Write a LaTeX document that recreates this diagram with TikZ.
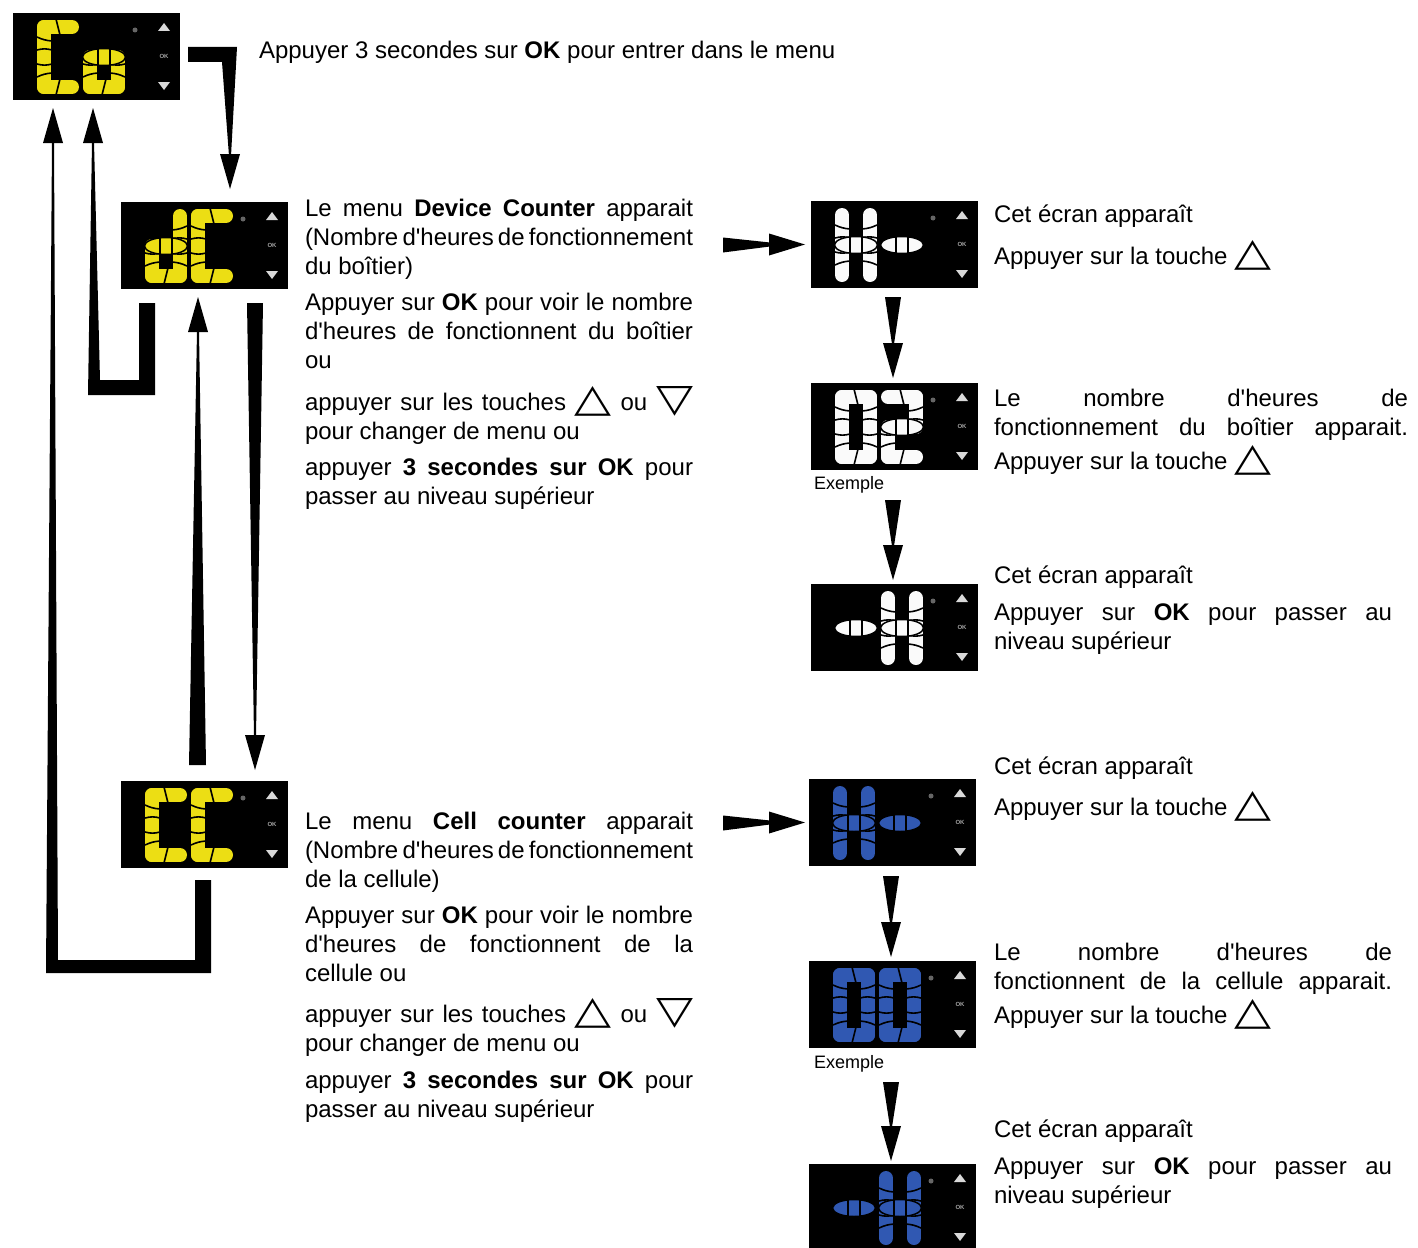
\documentclass[tikz,border=0pt]{standalone}
\usepackage{fontspec}
\usepackage{graphicx}
\setmainfont{Liberation Sans}
\newfontfamily\lib{Liberation Sans}[WordSpace={1,1.5,1.6}]
\newfontfamily\dejavu{DejaVu Sans}
\usetikzlibrary{calc}
\definecolor{lcdyellow}{RGB}{236,222,20}
\definecolor{lcdblue}{RGB}{48,88,178}
\definecolor{lcdwhite}{RGB}{250,250,250}
\colorlet{lcdcol}{white}
\newcommand\tup{\raisebox{-1pt}{\resizebox{37pt}{25pt}{\dejavu △}}}
\newcommand\tdown{\raisebox{-1pt}{\resizebox{37pt}{25pt}{\dejavu ▽}}}
\tikzset{
  txt/.style={inner sep=0pt, outer sep=0pt, anchor=base west, font=\lib\fontsize{24}{29}\selectfont, align=left},
  para/.style={txt, align=justify, text width=#1, execute at begin node={\tolerance=10000\hbadness=10000\emergencystretch=0pt}},
  small/.style={inner sep=0pt, outer sep=0pt, anchor=base west, font=\lib\fontsize{18}{20}\selectfont},
  conn/.style={fill=black, draw=none},
  seg/.style={draw=lcdcol, line width=14pt, line cap=round, line join=round},
  cut/.style={draw=black, line width=1.6pt},
  lcdbox/.style={fill=black, minimum width=167pt, minimum height=87pt, inner sep=0pt, outer sep=0pt, anchor=north west},
  okstyle/.style={inner sep=0pt, font=\lib\bfseries\fontsize{6}{6}\selectfont, text=gray!70!white},
}
\expandafter\def\csname lcdsega\endcsname{\draw[seg] (7,7)--(35,7);}
\expandafter\def\csname lcdsegb\endcsname{\draw[seg] (35,7)--(35,37);}
\expandafter\def\csname lcdsegc\endcsname{\draw[seg] (35,37)--(35,67);}
\expandafter\def\csname lcdsegd\endcsname{\draw[seg] (7,67)--(35,67);}
\expandafter\def\csname lcdsege\endcsname{\draw[seg] (7,37)--(7,67);}
\expandafter\def\csname lcdsegf\endcsname{\draw[seg] (7,7)--(7,37);}
\newcommand\lcdg{\filldraw[fill=lcdcol, draw=black, line width=1.5pt] (21,37) ellipse [x radius=21.5pt, y radius=8.5pt];
  \draw[cut] (15,29)--(15,45) (27,29)--(27,45);}
\newcommand\lcdcuts{\draw[cut] (19,-1)--(23,15) (23,59)--(19,75)
  (0,17) to[bend right=10] (15,21) (0,30) to[bend left=15] (15,30) (0,44) to[bend right=15] (15,44) (0,57) to[bend left=10] (15,53)
  (27,21) to[bend right=10] (42,17) (27,30) to[bend left=15] (42,30) (27,44) to[bend right=15] (42,44) (27,53) to[bend left=10] (42,57);}
\newcommand\lcdglyph[3]{%
  \begin{scope}[shift={(#1,7)}]
    \foreach \s in {#2}{\csname lcdseg\s\endcsname}
    \lcdcuts
    #3
  \end{scope}}
\newcommand\lcdicons{\fill[white!85!black] (145,18)--(157,18)--(151,10)--cycle (145,69)--(157,69)--(151,77)--cycle;
  \fill[gray!80!black] (122,17) circle[radius=2.5pt];}
\newcommand\lcd[6]{%
  \node[lcdbox] (#1) at (#2,#3) {};
  \begin{scope}[shift={(#1.north west)}]
    \colorlet{lcdcol}{#4}
    #5#6
    \lcdicons
    \node[okstyle] (#1-ok) at (151,43) {OK};
  \end{scope}}
\newcommand\headdown[1]{\fill[conn] (#1) -- ++(-10,-35) -- ++(20,0) -- cycle;}
\newcommand\headup[1]{\fill[conn] (#1) -- ++(-10,35) -- ++(20,0) -- cycle;}
\newcommand\headright[1]{\fill[conn] (#1) -- ++(-36,-11) -- ++(0,22) -- cycle;}
\begin{document}
\begin{tikzpicture}[x=1pt, y=-1pt]
\useasboundingbox (0,0) rectangle (1418,1247);
\clip (0,0) rectangle (1418,1247);
\fill[white] (0,0) rectangle (1418,1247);

% displays
\lcd{co}{13}{13}{lcdyellow}{\lcdglyph{24}{a,d,e,f}{}}{\lcdglyph{70}{c,d,e}{\lcdg}}
\lcd{dc}{121}{202}{lcdyellow}{\lcdglyph{24}{b,c,d,e}{\lcdg}}{\lcdglyph{70}{a,d,e,f}{}}
\lcd{cc}{121}{781}{lcdyellow}{\lcdglyph{24}{a,d,e,f}{}}{\lcdglyph{70}{a,d,e,f}{}}
\lcd{h1}{811}{201}{lcdwhite}{\lcdglyph{24}{b,c,e,f}{\lcdg}}{\lcdglyph{70}{}{\lcdg}}
\lcd{h2}{811}{383}{lcdwhite}{\lcdglyph{24}{a,b,c,d,e,f}{}}{\lcdglyph{70}{a,b,e,d}{\lcdg}}
\lcd{h3}{811}{584}{lcdwhite}{\lcdglyph{24}{}{\lcdg}}{\lcdglyph{70}{b,c,e,f}{\lcdg}}
\lcd{b1}{809}{779}{lcdblue}{\lcdglyph{24}{b,c,e,f}{\lcdg}}{\lcdglyph{70}{}{\lcdg}}
\lcd{b2}{809}{961}{lcdblue}{\lcdglyph{24}{a,b,c,d,e,f}{}}{\lcdglyph{70}{a,b,c,d,e,f}{}}
\lcd{b3}{809}{1164}{lcdblue}{\lcdglyph{24}{}{\lcdg}}{\lcdglyph{70}{b,c,e,f}{\lcdg}}

% texts
\node[txt] (t0) at (259,59) {Appuyer 3 secondes sur \textbf{OK} pour entrer dans le menu};

\node[para=388pt] (d1) at (305,216) {Le menu \textbf{Device Counter} apparait\linebreak (Nombre d'heures de fonctionnement\linebreak du boîtier)};
\node[para=388pt] (d2) at (305,310) {Appuyer sur \textbf{OK} pour voir le nombre\linebreak d'heures de fonctionnent du boîtier\linebreak ou};
\node[para=388pt] (d3) at (305,410) {appuyer sur les touches \tup{} ou \tdown\linebreak pour changer de menu ou};
\node[para=388pt] (d4) at (305,475) {appuyer \textbf{3 secondes sur OK} pour\linebreak passer au niveau supérieur};

\node[para=388pt] (c1) at (305,829) {Le menu \textbf{Cell counter} apparait\linebreak (Nombre d'heures de fonctionnement\linebreak de la cellule)};
\node[para=388pt] (c2) at (305,923) {Appuyer sur \textbf{OK} pour voir le nombre\linebreak d'heures de fonctionnent de la\linebreak cellule ou};
\node[para=388pt] (c3) at (305,1022) {appuyer sur les touches \tup{} ou \tdown\linebreak pour changer de menu ou};
\node[para=388pt] (c4) at (305,1088) {appuyer \textbf{3 secondes sur OK} pour\linebreak passer au niveau supérieur};

\node[txt] (r1) at (994,222) {Cet écran apparaît};
\node[txt] (r2) at (994,264) {Appuyer sur la touche \tup};
\node[para=414pt] (r3) at (994,406) {Le nombre d'heures de\linebreak fonctionnement\hfill du\hfill boîtier\hfill apparait.};
\node[txt] (r4) at (994,469) {Appuyer sur la touche \tup};
\node[txt] (r5) at (994,583) {Cet écran apparaît};
\node[para=398pt] (r6) at (994,620) {Appuyer sur \textbf{OK} pour passer au\linebreak niveau supérieur};
\node[small] (ex1) at (814,489) {Exemple};

\node[txt] (s1) at (994,774) {Cet écran apparaît};
\node[txt] (s2) at (994,815) {Appuyer sur la touche \tup};
\node[para=398pt] (s3) at (994,960) {Le nombre d'heures de\linebreak fonctionnent\hfill de\hfill la\hfill cellule\hfill apparait.};
\node[txt] (s4) at (994,1023) {Appuyer sur la touche \tup};
\node[txt] (s5) at (994,1137) {Cet écran apparaît};
\node[para=398pt] (s6) at (994,1174) {Appuyer sur \textbf{OK} pour passer au\linebreak niveau supérieur};
\node[small] (ex2) at (814,1068) {Exemple};

% connectors
% Co -> dC
\coordinate (tA) at ($(dc.north west)+(109,-13)$);
\fill[conn] ($(co.east)+(8,-9.5)$) -- ($(co.east)+(57,-9.5)$) -- ($(tA)+(1,-33)$) -- ($(tA)+(-1,-33)$) -- ($(co.east)+(42,5.5)$) -- ($(co.east)+(8,5.5)$) -- cycle;
\headdown{tA}
% dC -> Co
\coordinate (sB1) at ($(dc.south west)+(18,14)$);
\coordinate (tB1) at ($(co.south)+(-3.5,8)$);
\fill[conn] (sB1) -- ($(sB1)+(16,0)$) -- ($(sB1)+(16,92)$) -- ($(sB1)+(-51,92)$) -- ($(tB1)+(-1,34)$) -- ($(tB1)+(1,34)$) -- ($(sB1)+(-39,77)$) -- ($(sB1)+(0,77)$) -- cycle;
\headup{tB1}
% CC -> Co
\coordinate (sB2) at ($(cc.south west)+(74,12)$);
\coordinate (tB2) at ($(co.south west)+(40,8)$);
\fill[conn] (sB2) -- ($(sB2)+(16,0)$) -- ($(sB2)+(16,93)$) -- ($(sB2)+(-149,93)$) -- ($(tB2)+(-1,34)$) -- ($(tB2)+(1,34)$) -- ($(sB2)+(-137,80)$) -- ($(sB2)+(0,80)$) -- cycle;
\headup{tB2}
% dC -> CC
\coordinate (sC) at ($(dc.south west)+(126,14)$);
\coordinate (tC) at ($(cc.north west)+(134,-11)$);
\fill[conn] (sC) -- ($(sC)+(16,0)$) -- ($(tC)+(1,-34)$) -- ($(tC)+(-1,-34)$) -- cycle;
\headdown{tC}
% CC -> dC
\coordinate (sD) at ($(cc.north west)+(68,-16)$);
\coordinate (tD) at ($(dc.south west)+(77,8)$);
\fill[conn] (sD) -- ($(sD)+(17,0)$) -- ($(tD)+(1,34)$) -- ($(tD)+(-1,34)$) -- cycle;
\headup{tD}
% dC -> H-
\coordinate (tE1) at ($(h1.west)+(-6,0)$);
\fill[conn] ($(tE1)+(-82,-7)$) -- ($(tE1)+(-35,-2)$) -- ($(tE1)+(-35,2)$) -- ($(tE1)+(-82,8)$) -- cycle;
\headright{tE1}
% CC -> blue H-
\coordinate (tE2) at ($(b1.west)+(-4,0)$);
\fill[conn] ($(tE2)+(-82,-7)$) -- ($(tE2)+(-35,-2)$) -- ($(tE2)+(-35,2)$) -- ($(tE2)+(-82,8)$) -- cycle;
\headright{tE2}
% right column vertical arrows
\coordinate (sF1) at ($(h1.south)+(-9.5,9)$);
\coordinate (tF1) at ($(h2.north)+(-1.5,-5)$);
\fill[conn] (sF1) -- ($(sF1)+(16,0)$) -- ($(tF1)+(1,-34)$) -- ($(tF1)+(-1,-34)$) -- cycle;
\headdown{tF1}
\coordinate (sF2) at ($(h2.south)+(-9.5,30)$);
\coordinate (tF2) at ($(h3.north)+(-1.5,-4)$);
\fill[conn] (sF2) -- ($(sF2)+(16,0)$) -- ($(tF2)+(1,-34)$) -- ($(tF2)+(-1,-34)$) -- cycle;
\headdown{tF2}
\coordinate (sF3) at ($(b1.south)+(-9.5,10)$);
\coordinate (tF3) at ($(b2.north)+(-1.5,-4)$);
\fill[conn] (sF3) -- ($(sF3)+(16,0)$) -- ($(tF3)+(1,-34)$) -- ($(tF3)+(-1,-34)$) -- cycle;
\headdown{tF3}
\coordinate (sF4) at ($(b2.south)+(-9.5,34)$);
\coordinate (tF4) at ($(b3.north)+(-1.5,-3)$);
\fill[conn] (sF4) -- ($(sF4)+(16,0)$) -- ($(tF4)+(1,-34)$) -- ($(tF4)+(-1,-34)$) -- cycle;
\headdown{tF4}
\end{tikzpicture}
\end{document}
